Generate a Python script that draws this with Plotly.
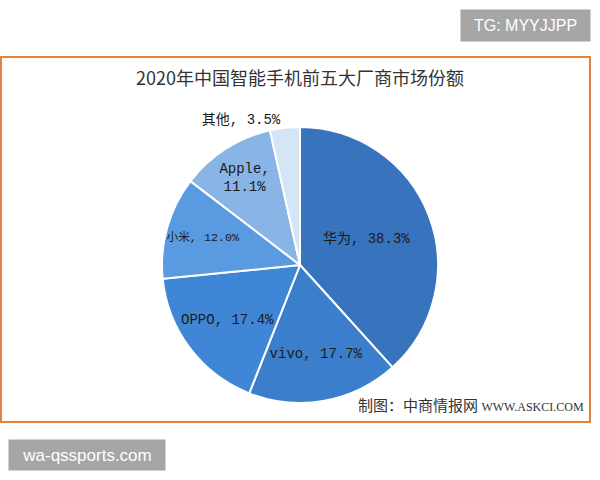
import plotly.graph_objects as go

# 2020 China smartphone vendor market share (%)
brands = ["华为", "vivo", "OPPO", "小米", "Apple", "其他"]
shares = [38.3, 17.7, 17.4, 12.0, 11.1, 3.5]
slice_colors = ["#3873bd", "#3b7fcc", "#3f87d6", "#5a9ae0", "#88b4e6", "#d4e5f6"]

title_text = "2020年中国智能手机前五大厂商市场份额"
source_text = ("制图：中商情报网 <span style='font-family:Liberation Serif;font-size:12px'>"
               "WWW.ASKCI.COM</span>")

labels_text = []
for name, val in zip(brands, shares):
    sep = ",<br>" if name == "Apple" else ", "
    labels_text.append(f"{name}{sep}{val:.1f}%")

positions = ["outside" if name == "其他" else "inside" for name in brands]

fig = go.Figure(go.Pie(
    labels=brands,
    values=shares,
    text=labels_text,
    textinfo="text",
    textposition=positions,
    insidetextorientation="horizontal",
    sort=False,
    direction="clockwise",
    rotation=0,
    marker=dict(colors=slice_colors, line=dict(color="white", width=2)),
    textfont=dict(family="Liberation Mono, Noto Sans CJK SC", size=14, color="#1b1b1b"),
    domain=dict(x=[162 / 600, 438 / 600], y=[77 / 480, 353 / 480]),
    showlegend=False,
    hoverinfo="label+percent",
))


def px_note(text, x, y, **kw):
    # annotation placed in pixel coordinates of the 600x480 canvas
    return dict(text=text, x=x / 600, y=(480 - y) / 480, xref="paper", yref="paper",
                xanchor=kw.pop("xanchor", "center"), yanchor="middle",
                showarrow=False, **kw)


fig.update_layout(
    width=600, height=480,
    margin=dict(l=0, r=0, t=0, b=0),
    paper_bgcolor="white",
    plot_bgcolor="white",
    font=dict(family="Noto Sans CJK SC"),
    shapes=[dict(type="rect", xref="paper", yref="paper",
                 x0=1 / 600, x1=590 / 600, y0=58 / 480, y1=423 / 480,
                 line=dict(color="#e5823f", width=2))],
    annotations=[
        px_note(title_text, 300, 77,
                font=dict(size=18, color="#333333", family="Noto Sans CJK SC")),
        px_note(source_text, 586, 404, xanchor="right",
                font=dict(size=15, color="#333333", family="Noto Sans CJK SC")),
        px_note("TG: MYYJJPP", 525.5, 25, bgcolor="#a6a6a6", borderpad=0,
                width=129, height=31,
                font=dict(size=16, color="white", family="Liberation Sans")),
        px_note("wa-qssports.com", 87, 455, bgcolor="#a6a6a6", borderpad=0,
                width=156, height=30,
                font=dict(size=17, color="white", family="Liberation Sans")),
    ],
)

fig.write_html("out.html", config={"displayModeBar": False},
               post_script="document.body.style.margin='0';")
